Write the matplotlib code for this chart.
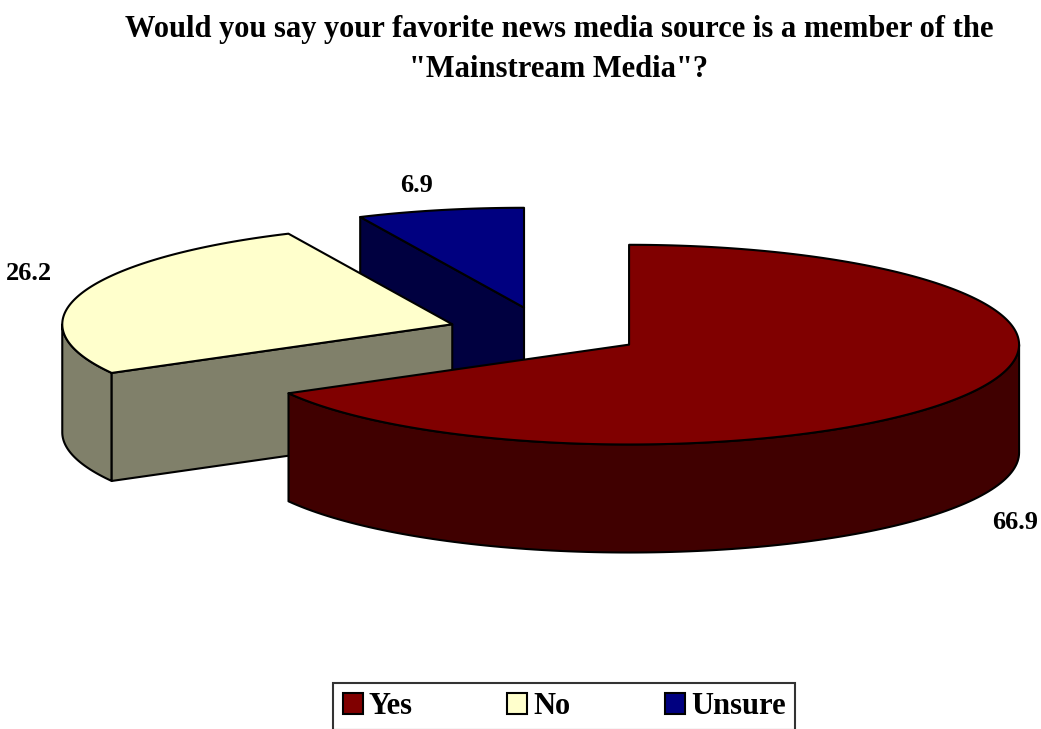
import numpy as np
import matplotlib.pyplot as plt
from matplotlib.patches import Patch

categories = ['Yes', 'No', 'Unsure']
values = [66.9, 26.2, 6.9]
top_colors = ['#800000', '#FFFFCC', '#000080']
side_colors = ['#400000', '#80806A', '#000040']

title = 'Would you say your favorite news media source is a member of the\n"Mainstream Media"?'

squash = 0.256   # vertical flattening of the ellipse
depth = 0.277    # thickness of the pie
explode = 0.25

plt.rcParams['font.family'] = ['Liberation Serif', 'DejaVu Serif']
plt.rcParams['font.weight'] = 'bold'

fig = plt.figure(figsize=(10.41, 7.29), dpi=100)
ax = fig.add_axes([0, 0, 1, 1])
ax.set_xlim(-545 / 390, 496 / 390)
ax.set_ylim(-397 / 390, 332 / 390)
ax.axis('off')


def rim(cx, cy, t):
    r = np.radians(t)
    return cx + np.cos(r), cy + squash * np.sin(r)


# slices run clockwise from 12 o'clock
sweep = np.array(values) / sum(values) * 360
t1s = 90 - np.cumsum(sweep)
t2s = t1s + sweep

slices = []
for i in range(len(values)):
    mid = np.radians((t1s[i] + t2s[i]) / 2)
    cx = explode * np.cos(mid)
    cy = explode * squash * np.sin(mid)
    slices.append((cy, i, cx, mid))

# draw back slices first
for cy, i, cx, mid in sorted(slices, reverse=True):
    t1, t2 = t1s[i], t2s[i]
    kw = dict(edgecolor='black', linewidth=1.5, joinstyle='round')

    # outer wall on the front half
    for lo, hi in [(-180, 0), (180, 360)]:
        a, b = max(t1, lo), min(t2, hi)
        if a < b:
            ts = np.linspace(a, b, 120)
            xs, ys = rim(cx, cy, ts)
            ax.fill(np.r_[xs, xs[::-1]], np.r_[ys, ys[::-1] - depth],
                    facecolor=side_colors[i], **kw)

    # cut faces
    for t, show in [(t1, np.cos(np.radians(t1)) > 1e-6),
                    (t2, np.cos(np.radians(t2)) < -1e-6)]:
        if show:
            ex, ey = rim(cx, cy, t)
            ax.fill([cx, ex, ex, cx], [cy, ey, ey - depth, cy - depth],
                    facecolor=side_colors[i], **kw)

    # top face
    ts = np.linspace(t1, t2, 300)
    xs, ys = rim(cx, cy, ts)
    ax.fill(np.r_[cx, xs], np.r_[cy, ys], facecolor=top_colors[i], **kw)

    # value label just outside the rim
    c, s = np.cos(mid), np.sin(mid)
    lx = cx + 1.08 * c
    ly = cy + 1.08 * squash * s
    if s < 0:
        ly -= depth
    ha = 'right' if c < -0.15 else ('left' if c > 0.15 else 'center')
    va = 'bottom' if s > 0 else 'top'
    ax.annotate(f'{values[i]:.1f}', (lx, ly), xytext=(0, 4 if s > 0 else -3),
                textcoords='offset points', ha=ha, va=va,
                fontsize=19, fontweight='bold')

fig.text(0.537, 1 - 15 / 729, title, ha='center', va='top', fontsize=22,
         fontweight='bold', linespacing=1.5)

handles = [Patch(facecolor=c, edgecolor='black', linewidth=1.5) for c in top_colors]
leg = fig.legend(handles, categories, loc='upper center', bbox_to_anchor=(0.542, 1 - 683 / 729),
                 bbox_transform=fig.transFigure, borderaxespad=0,
                 ncol=3, fontsize=22, frameon=True, fancybox=False, edgecolor='black',
                 handlelength=0.65, handleheight=0.65, handletextpad=0.2,
                 columnspacing=3.1, borderpad=0.3)
leg.get_frame().set_linewidth(1.5)

fig.savefig('out.png', dpi=100)
